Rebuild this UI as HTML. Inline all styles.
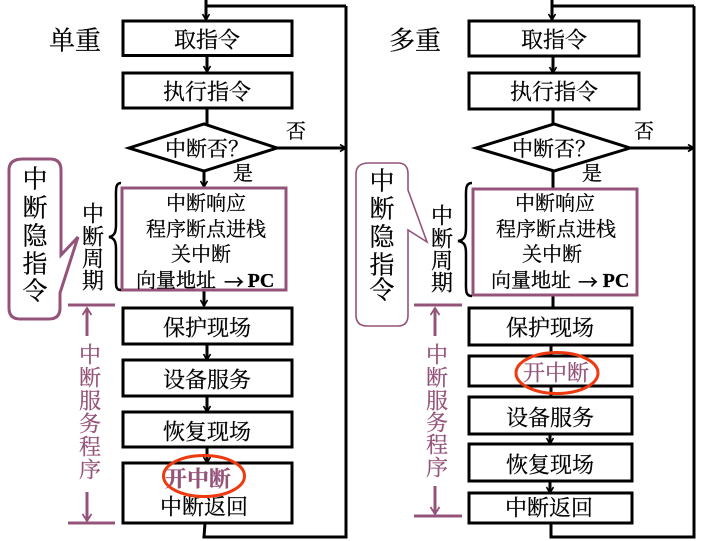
<!DOCTYPE html>
<html><head><meta charset="utf-8">
<style>
html,body{margin:0;padding:0;background:#fff}
svg{display:block}
text{font-family:"Liberation Serif","Noto Serif CJK SC",serif;fill:#000;stroke:#000;stroke-width:.25px;text-anchor:middle;dominant-baseline:central}
text.p{fill:#94547a;stroke:#94547a}
text.ar{font-family:"Noto Sans CJK SC",sans-serif}
</style></head><body>
<svg width="715" height="541" viewBox="0 0 715 541" xmlns="http://www.w3.org/2000/svg">
<defs>
<marker id="a" markerWidth="9" markerHeight="9" refX="7" refY="4" orient="auto" markerUnits="userSpaceOnUse"><path d="M1 0.5L7 4L1 7.500" fill="none" stroke="#000" stroke-width="1.600"/></marker>
<marker id="m" markerWidth="11" markerHeight="11" refX="8" refY="5" orient="auto" markerUnits="userSpaceOnUse"><path d="M1 0.5L8 5L1 9.500" fill="none" stroke="#94547a" stroke-width="1.800"/></marker>
</defs>
<!-- LEFT -->
<g fill="none" stroke="#000" stroke-width="3">
<path d="M346 6H206M206 0V20" marker-end="url(#a)"/>
<path d="M207 56V72" marker-end="url(#a)"/>
<path d="M207 108V124"/>
<path d="M277 148H346" marker-end="url(#a)"/>
<path d="M204 171V187" marker-end="url(#a)"/>
<path d="M204 290V306" marker-end="url(#a)"/>
<path d="M207 344V360" marker-end="url(#a)"/>
<path d="M207 396V412" marker-end="url(#a)"/>
<path d="M207 447V463" marker-end="url(#a)"/>
<path d="M205 523L204 537H346V6"/>
<rect x="123" y="21" width="169" height="34.500" fill="#fff"/>
<rect x="123" y="73" width="169" height="35" fill="#fff"/>
<path d="M129 148L204 124L277 148L204 171Z" fill="#fff"/>
<rect x="123" y="308" width="169" height="36" fill="#fff"/>
<rect x="123" y="360" width="169" height="36" fill="#fff"/>
<rect x="123" y="412" width="169" height="35" fill="#fff"/>
<rect x="123" y="463" width="169" height="60" fill="#fff"/>
</g>
<rect x="122" y="188" width="164" height="102" fill="#fff" stroke="#94547a" stroke-width="3"/>
<path d="M121 183C115 183 116 190 116 200V225C116 233 114 236 109 237C114 238 116 241 116 249V275C116 285 115 290 121 290" fill="none" stroke="#000" stroke-width="2.500"/>
<path d="M23 159H50Q61 159 61 170V255L78 237L60 293V308Q60 319 49 319H20Q9 319 9 308V170Q9 159 23 159Z" fill="#fff" stroke="#94547a" stroke-width="3"/>
<g fill="none" stroke="#94547a" stroke-width="3">
<path d="M68 305H115M68 523H115"/>
<path d="M87 336V308" marker-end="url(#m)"/>
<path d="M87 492V521" marker-end="url(#m)"/>
</g>
<text x="75" y="41" font-size="26">单重</text>
<g font-size="22">
<text x="207" y="40">取指令</text>
<text x="207" y="92">执行指令</text>
<text x="207" y="328">保护现场</text>
<text x="207" y="380">设备服务</text>
<text x="207" y="432">恢复现场</text>
<text x="204" y="507">中断返回</text>
</g>
<text x="207" y="149" font-size="21">中断否？</text>
<g font-size="20">
<text x="296" y="132">否</text>
<text x="243" y="174">是</text>
<text x="206" y="204">中断响应</text>
<text x="206" y="230">程序断点进栈</text>
<text x="201" y="255">关中断</text>
<text x="176" y="281">向量地址</text>
<text class="ar" x="234" y="281">→</text>
<text x="261" y="281" font-weight="bold">PC</text>
</g>
<g font-size="22"><text x="93" y="214">中</text><text x="93" y="237">断</text><text x="93" y="259">周</text><text x="93" y="281">期</text></g>
<g font-size="25"><text x="35" y="180">中</text><text x="35" y="209">断</text><text x="35" y="237">隐</text><text x="35" y="265">指</text><text x="35" y="292">令</text></g>
<g font-size="22"><text class="p" x="90" y="355">中</text><text class="p" x="90" y="378">断</text><text class="p" x="90" y="401">服</text><text class="p" x="90" y="424">务</text><text class="p" x="90" y="447">程</text><text class="p" x="90" y="470">序</text></g>
<text class="p" x="198" y="479" font-size="22" font-weight="bold">开中断</text>
<ellipse cx="204" cy="476" rx="40.500" ry="20.500" fill="none" stroke="#ee3a10" stroke-width="3"/>
<!-- RIGHT -->
<g fill="none" stroke="#000" stroke-width="3">
<path d="M694 6H552M552 0V20" marker-end="url(#a)"/>
<path d="M553 56V73" marker-end="url(#a)"/>
<path d="M553 109V124"/>
<path d="M630 148H694" marker-end="url(#a)"/>
<path d="M553 171V188"/>
<path d="M553 295V307"/>
<path d="M551 345V356"/>
<path d="M551 386V397"/>
<path d="M550 434V444" marker-end="url(#a)"/>
<path d="M550 481V493" marker-end="url(#a)"/>
<path d="M551 523V537H694V6"/>
<rect x="469" y="21" width="170" height="35" fill="#fff"/>
<rect x="469" y="73" width="170" height="36" fill="#fff"/>
<path d="M476 148L554 124L630 148L554 171Z" fill="#fff"/>
<rect x="469" y="308" width="163" height="37" fill="#fff"/>
<rect x="469" y="356" width="163" height="30" fill="#fff"/>
<rect x="469" y="397" width="163" height="37" fill="#fff"/>
<rect x="469" y="444" width="163" height="37" fill="#fff"/>
<rect x="469" y="493" width="163" height="30" fill="#fff"/>
</g>
<rect x="473" y="189" width="164" height="106" fill="#fff" stroke="#94547a" stroke-width="3"/>
<path d="M472 183C465 183 466 190 466 200V228C466 237 464 240 458 241C464 242 466 245 466 253V280C466 290 465 296 472 296" fill="none" stroke="#000" stroke-width="2.500"/>
<path d="M369 163H398Q408 163 408 174V190L427 242L408 230V315Q408 326 398 326H367Q356 326 356 315V174Q356 163 369 163Z" fill="#fff" stroke="#94547a" stroke-width="1.600"/>
<g fill="none" stroke="#94547a" stroke-width="3">
<path d="M414 305H462M414 516H462"/>
<path d="M435 336V308" marker-end="url(#m)"/>
<path d="M435 486V514" marker-end="url(#m)"/>
</g>
<text x="415" y="41" font-size="26">多重</text>
<g font-size="22">
<text x="554" y="40">取指令</text>
<text x="554" y="92">执行指令</text>
<text x="550" y="328">保护现场</text>
<text x="550" y="418">设备服务</text>
<text x="550" y="465">恢复现场</text>
<text x="549" y="508">中断返回</text>
</g>
<text x="554" y="149" font-size="21">中断否？</text>
<g font-size="20">
<text x="644" y="132">否</text>
<text x="592" y="174">是</text>
<text x="555" y="204">中断响应</text>
<text x="556" y="230">程序断点进栈</text>
<text x="552" y="255">关中断</text>
<text x="531" y="281">向量地址</text>
<text class="ar" x="588" y="281">→</text>
<text x="616" y="281" font-weight="bold">PC</text>
</g>
<g font-size="22"><text x="442" y="216">中</text><text x="442" y="239">断</text><text x="442" y="261">周</text><text x="442" y="283">期</text></g>
<g font-size="25"><text x="382" y="182">中</text><text x="382" y="210">断</text><text x="382" y="238">隐</text><text x="382" y="266">指</text><text x="382" y="291">令</text></g>
<g font-size="22"><text class="p" x="437" y="355">中</text><text class="p" x="437" y="378">断</text><text class="p" x="437" y="401">服</text><text class="p" x="437" y="423">务</text><text class="p" x="437" y="445">程</text><text class="p" x="437" y="468">序</text></g>
<text class="p" x="556" y="373" font-size="22">开中断</text>
<ellipse cx="557" cy="373" rx="41" ry="20.500" fill="none" stroke="#ee3a10" stroke-width="3"/>
</svg>
</body></html>
